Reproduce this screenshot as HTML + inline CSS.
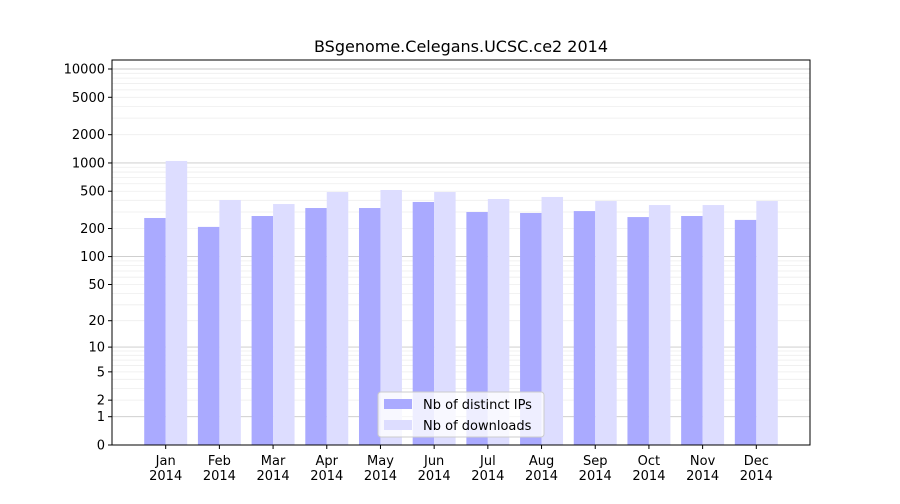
<!DOCTYPE html>
<html><head><meta charset="utf-8"><style>
body{margin:0;background:#fff;font-family:"DejaVu Sans","Liberation Sans",sans-serif;}
</style></head><body>
<svg id="c" width="900" height="500" xmlns="http://www.w3.org/2000/svg"></svg>
<script>
const months=["Jan","Feb","Mar","Apr","May","Jun","Jul","Aug","Sep","Oct","Nov","Dec"];
const ips=[259,208,272,331,331,384,300,293,307,265,272,247];
const downloads=[1050,403,365,490,515,490,413,434,393,356,356,393];
const tickVals=[0,1,2,5,10,20,50,100,200,500,1000,2000,5000,10000];
const majorVals=[1,10,100,1000,10000];
const NS="http://www.w3.org/2000/svg";
const svg=document.getElementById('c');
const L=112,R=810,T=60,B=445;
function X(i){return L+(R-L)*i/13;}
function Y(v){return B-94*Math.log10(1+v);}
function mk(t,a,p){const e=document.createElementNS(NS,t);for(const k in a)e.setAttribute(k,a[k]);(p||svg).appendChild(e);return e;}
const g=mk('g',{});


for(let d=1;d<=10000;d*=10){for(let m=1;m<10;m++){const v=d*m;if(v>12500)break;const y=Y(v);
 const ln=mk('line',{x1:L,x2:R,y1:y,y2:y,stroke:m===1?'#c8c8c8':'#eeeeee','stroke-width':m===1?0.9:0.8},g);
 
 }}
months.forEach((mo,i)=>{
 const xc=X(i+1),w=(R-L)/13*0.4;
 const b1=mk('rect',{x:xc-w,y:Y(ips[i]),width:w,height:B-Y(ips[i]),fill:'#aaaaff'});
 
 
 const b2=mk('rect',{x:xc,y:Y(downloads[i]),width:w,height:B-Y(downloads[i]),fill:'#ddddff'});
 
 
 mk('line',{x1:xc,x2:xc,y1:B,y2:B+4,stroke:'#000'});
 const t=mk('text',{x:xc,y:B+20,'text-anchor':'middle','font-size':13});
 t.textContent=mo;
 
 
 const t2=mk('text',{x:xc,y:B+35,'text-anchor':'middle','font-size':13});t2.textContent='2014';
 
 
});
tickVals.forEach(v=>{const y=Y(v);
 mk('line',{x1:L-4,x2:L,y1:y,y2:y,stroke:'#000'});
 const t=mk('text',{x:L-7,y:y+4.5,'text-anchor':'end','font-size':13});t.textContent=v;
 
 });
const fr=mk('rect',{x:L,y:T,width:R-L,height:B-T,fill:'none',stroke:'#000','stroke-width':1});


const ti=mk('text',{x:(L+R)/2,y:52,'text-anchor':'middle','font-size':16});ti.textContent='BSgenome.Celegans.UCSC.ce2 2014';


const lg=mk('g',{});


mk('rect',{x:378,y:392,width:166,height:45,rx:3,fill:'#fff','fill-opacity':0.8,stroke:'#cccccc'},lg);
mk('rect',{x:384,y:399,width:28,height:10,fill:'#aaaaff'},lg);
mk('rect',{x:384,y:420,width:28,height:10,fill:'#ddddff'},lg);
const l1=mk('text',{x:423,y:409,'font-size':13},lg);l1.textContent='Nb of distinct IPs';


const l2=mk('text',{x:423,y:430,'font-size':13},lg);l2.textContent='Nb of downloads';


</script>
</body></html>
